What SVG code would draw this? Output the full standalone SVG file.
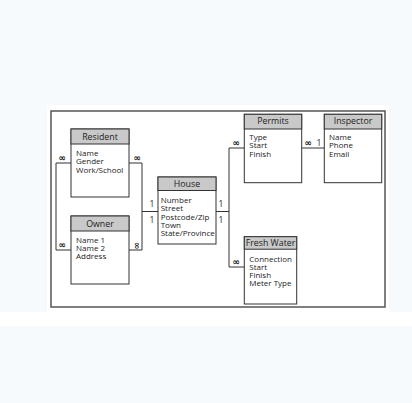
<svg xmlns="http://www.w3.org/2000/svg" width="412" height="403" viewBox="0 0 412 403">
<style>
.box{fill:#fff;stroke:#333;stroke-width:1}
.hdr{fill:#c9c9c9;stroke:#333;stroke-width:1}
.ttl{font-family:"Open Sans","Liberation Sans",Arial,sans-serif;font-size:8.8px;fill:#222;text-anchor:middle}
.att{font-family:"Open Sans","Liberation Sans",Arial,sans-serif;font-size:8px;fill:#222}
.lbl{font-family:"Open Sans","Liberation Sans",Arial,sans-serif;font-size:8.5px;fill:#222;text-anchor:middle}
.inf{font-family:"DejaVu Sans",sans-serif;font-size:9px;fill:#222;text-anchor:middle;font-weight:bold}
.con{fill:none;stroke:#333;stroke-width:1}
</style>
<rect x="0" y="0" width="412" height="403" fill="#f7fafd"/>
<rect x="47" y="105" width="342" height="207" fill="#fff"/>
<rect x="0" y="312" width="412" height="14" fill="#fff"/>
<rect x="51" y="111" width="334" height="196" fill="#fff" stroke="#555" stroke-width="1.5"/>

<g id="connectors">
<polyline class="con" points="71,163 56,163 56,250 71,250"/>
<polyline class="con" points="129,163 142,163 142,250 129,250"/>
<line class="con" x1="142" y1="211.5" x2="158" y2="211.5"/>
<line class="con" x1="216" y1="211.5" x2="229" y2="211.5"/>
<polyline class="con" points="244,148 229,148 229,267 244,267"/>
<line class="con" x1="302" y1="148" x2="324" y2="148"/>
<text class="inf" x="62" y="161">∞</text>
<text class="inf" x="137" y="161">∞</text>
<text class="inf" x="62" y="248">∞</text>
<text class="inf" transform="translate(136.5,245.5) rotate(90)" x="0" y="3">∞</text>
<text class="lbl" x="152" y="207">1</text>
<text class="lbl" x="152" y="223">1</text>
<text class="lbl" x="221" y="207">1</text>
<text class="lbl" x="221" y="223">1</text>
<text class="inf" x="236" y="146">∞</text>
<text class="inf" x="236" y="265">∞</text>
<text class="inf" x="308" y="146">∞</text>
<text class="lbl" x="319" y="146">1</text>
</g>

<g id="resident">
<rect class="box" x="71" y="129" width="58" height="68"/>
<rect class="hdr" x="71" y="129" width="58" height="15"/>
<text class="ttl" x="100" y="139.5">Resident</text>
<text class="att" x="76" y="156">Name</text>
<text class="att" x="76" y="164.3">Gender</text>
<text class="att" x="76" y="172.6">Work/School</text>
</g>

<g id="owner">
<rect class="box" x="71" y="216" width="58" height="68"/>
<rect class="hdr" x="71" y="216" width="58" height="15"/>
<text class="ttl" x="100" y="226.5">Owner</text>
<text class="att" x="76" y="242.5">Name 1</text>
<text class="att" x="76" y="250.8">Name 2</text>
<text class="att" x="76" y="259.1">Address</text>
</g>

<g id="house">
<rect class="box" x="158" y="177" width="58" height="67"/>
<rect class="hdr" x="158" y="177" width="58" height="13.5"/>
<text class="ttl" x="187" y="186.5">House</text>
<text class="att" x="160.7" y="203">Number</text>
<text class="att" x="160.7" y="211.3">Street</text>
<text class="att" x="160.7" y="219.6">Postcode/Zip</text>
<text class="att" x="160.7" y="227.9">Town</text>
<text class="att" x="160.7" y="236.2">State/Province</text>
</g>

<g id="permits">
<rect class="box" x="244.3" y="114.3" width="57.4" height="68.4"/>
<rect class="hdr" x="244.3" y="114.3" width="57.4" height="14.7"/>
<text class="ttl" x="273" y="124.3">Permits</text>
<text class="att" x="249.3" y="140">Type</text>
<text class="att" x="249.3" y="148.3">Start</text>
<text class="att" x="249.3" y="156.6">Finish</text>
</g>

<g id="inspector">
<rect class="box" x="324.3" y="114.3" width="57.4" height="68.4"/>
<rect class="hdr" x="324.3" y="114.3" width="57.4" height="14.7"/>
<text class="ttl" x="353" y="124.3">Inspector</text>
<text class="att" x="329" y="140">Name</text>
<text class="att" x="329" y="148.3">Phone</text>
<text class="att" x="329" y="156.6">Email</text>
</g>

<g id="fresh-water">
<rect class="box" x="244.3" y="236.7" width="52.4" height="67.3"/>
<rect class="hdr" x="244.3" y="236.7" width="52.4" height="12.5"/>
<text class="ttl" x="270.5" y="246">Fresh Water</text>
<text class="att" x="249.3" y="261.5">Connection</text>
<text class="att" x="249.3" y="269.8">Start</text>
<text class="att" x="249.3" y="278.1">Finish</text>
<text class="att" x="249.3" y="286.4">Meter Type</text>
</g>
</svg>
